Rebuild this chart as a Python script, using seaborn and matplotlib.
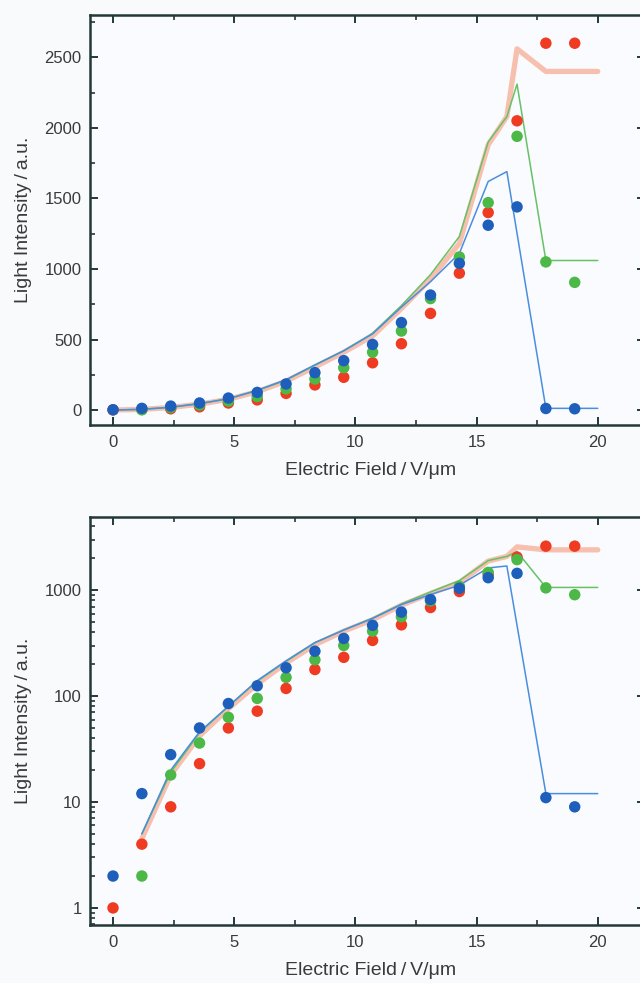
import numpy as np
import pandas as pd
import matplotlib
matplotlib.use("Agg")
import matplotlib.pyplot as plt
import seaborn as sns
from matplotlib.ticker import MultipleLocator, LogLocator, NullFormatter

# ---- data ----
field = [0, 1.19, 2.38, 3.57, 4.76, 5.95, 7.14, 8.33, 9.52, 10.71,
         11.90, 13.10, 14.29, 15.48, 16.67, 17.86, 19.05]
red_pts = [1, 4, 9, 23, 50, 72, 118, 178, 232, 335, 470, 685, 970, 1400, 2050, 2600, 2600]
green_pts = [np.nan, 2, 18, 36, 63, 95, 150, 220, 300, 410, 560, 790, 1085, 1470, 1940, 1050, 905]
blue_pts = [2, 12, 28, 50, 85, 125, 185, 265, 350, 465, 620, 815, 1040, 1310, 1440, 11, 9]

pink_x = [0, 1.19, 2.38, 3.57, 4.76, 5.95, 7.14, 8.33, 9.52, 10.71, 11.90, 13.10, 14.29, 15.48, 16.25, 16.67, 17.86, 20]
pink_y = [0, 4.5, 18, 42, 76, 130, 205, 305, 410, 525, 720, 930, 1180, 1880, 2080, 2560, 2400, 2400]
green_x = [0, 1.19, 2.38, 3.57, 4.76, 5.95, 7.14, 8.33, 9.52, 10.71, 11.90, 13.10, 14.29, 15.48, 16.25, 16.67, 17.86, 20]
green_y = [0, 5, 19, 45, 80, 138, 212, 318, 420, 545, 740, 960, 1230, 1900, 2080, 2310, 1060, 1060]
blue_x = [0, 1.19, 2.38, 3.57, 4.76, 5.95, 7.14, 8.33, 9.52, 10.71, 11.90, 13.10, 14.29, 15.48, 16.25, 17.86, 20]
blue_y = [0, 5, 20, 46, 80, 140, 215, 320, 420, 540, 730, 910, 1110, 1620, 1690, 12, 12]

xticks = [0, 5, 10, 15, 20]
lin_yticks = [0, 500, 1000, 1500, 2000, 2500]
log_yticks = [1, 10, 100, 1000]

C_RED, C_GREEN, C_BLUE = "#ee3b22", "#4cb847", "#1d5fba"
C_PINK, C_GLINE, C_BLINE = "#f7bfae", "#66c266", "#4a8ee0"
TXT = "#3a3a3a"
SPINE = "#233838"

sns.set_theme(style="ticks")
plt.rcParams["font.family"] = ["Liberation Sans", "DejaVu Sans"]

fig = plt.figure(figsize=(6.4, 9.83), dpi=100)
fig.patch.set_facecolor("#f9fafc")

W = 555 / 640
ax1 = fig.add_axes([90 / 640, 1 - 425 / 983, W, 410 / 983])
ax2 = fig.add_axes([90 / 640, 1 - 925 / 983, W, 408 / 983])

pts = pd.DataFrame({"x": field, "red": red_pts, "green": green_pts, "blue": blue_pts})
lines = [(pink_x, pink_y, C_PINK, 3.8), (green_x, green_y, C_GLINE, 1.1), (blue_x, blue_y, C_BLINE, 1.1)]

for ax, log in [(ax1, False), (ax2, True)]:
    ax.set_facecolor("#fafbfe")
    if log:
        ax.set_yscale("log")
    for lx, ly, c, lw in lines:
        d = pd.DataFrame({"x": lx, "y": ly})
        if log:
            d = d[d["y"] > 0]
        sns.lineplot(data=d, x="x", y="y", ax=ax, color=c, lw=lw, sort=False,
                     estimator=None, legend=False, zorder=2)
    for col, c in [("red", C_RED), ("green", C_GREEN), ("blue", C_BLUE)]:
        d = pts[["x", col]].dropna()
        if log:
            d = d[d[col] > 0]
        sns.scatterplot(data=d, x="x", y=col, ax=ax, color=c, s=68,
                        edgecolor="none", legend=False, zorder=3)

    ax.set_xlim(-0.95, 21.95)
    ax.set_xticks(xticks)
    ax.xaxis.set_minor_locator(MultipleLocator(2.5))
    ax.tick_params(which="both", direction="in", top=True, right=True,
                   color=SPINE, labelcolor=TXT, labelsize=12)
    ax.tick_params(which="major", length=6, width=1.4)
    ax.tick_params(which="minor", length=3.5, width=1.2)
    ax.tick_params(axis="x", pad=7)
    ax.tick_params(axis="y", pad=6)
    for s in ax.spines.values():
        s.set_color(SPINE)
        s.set_linewidth(1.8)
    ax.set_xlabel("Electric Field\u2009/\u2009V/\u03bcm", fontsize=14, color=TXT)
    ax.set_ylabel("Light Intensity\u2009/\u2009a.u.", fontsize=14, color=TXT)

ax1.set_ylim(-106, 2800)
ax1.set_yticks(lin_yticks)
ax1.set_yticklabels([str(v) for v in lin_yticks])
ax1.yaxis.set_minor_locator(MultipleLocator(250))

ax2.set_ylim(0.69, 4900)
ax2.set_yticks(log_yticks)
ax2.set_yticklabels([str(v) for v in log_yticks])
ax2.yaxis.set_minor_locator(LogLocator(base=10, subs=np.arange(2, 10), numticks=20))
ax2.yaxis.set_minor_formatter(NullFormatter())

for ax in (ax1, ax2):
    ax.yaxis.set_label_coords(-0.105, 0.5)
    ax.xaxis.set_label_coords(0.505, -0.09)

fig.savefig("out.png", dpi=100, facecolor=fig.get_facecolor())
